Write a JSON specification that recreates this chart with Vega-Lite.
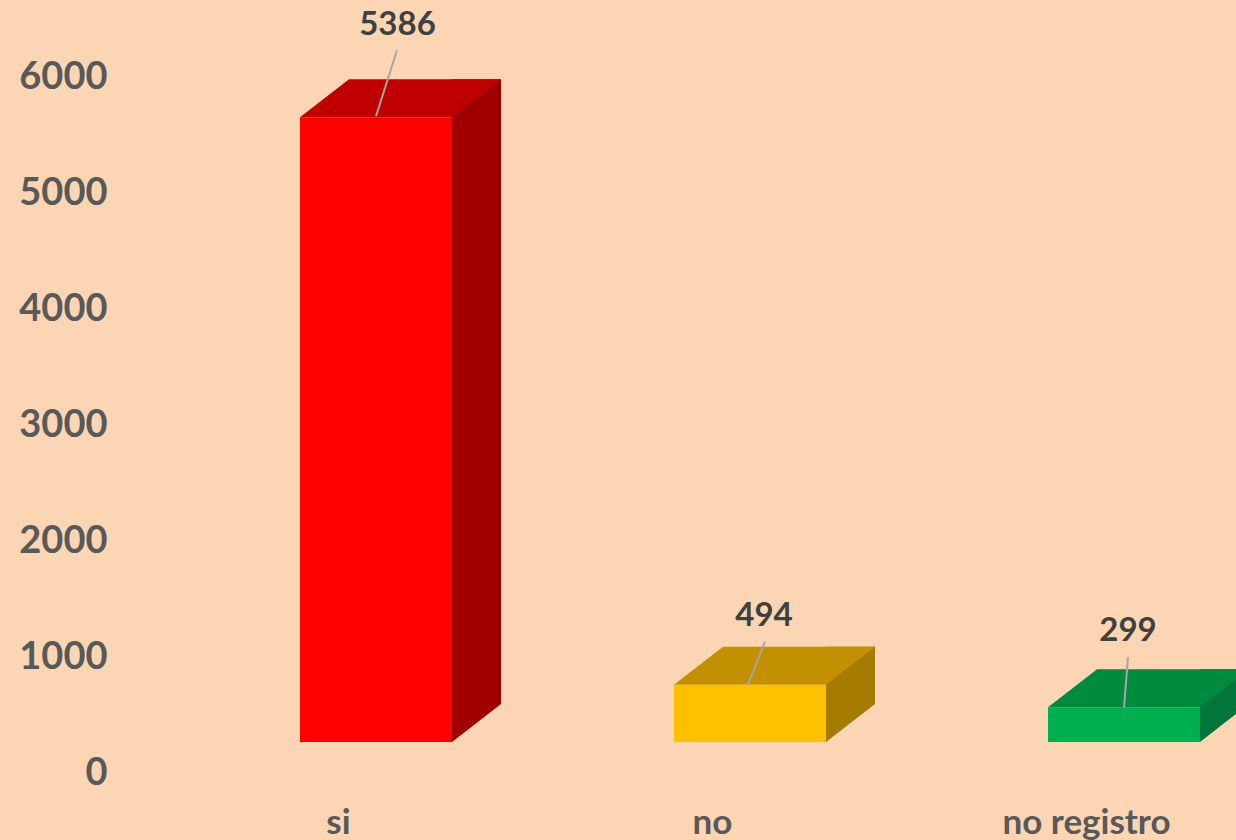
{
  "$schema": "https://vega.github.io/schema/vega-lite/v6.json",
  "width": 1116,
  "height": 696,
  "autosize": {"type": "none"},
  "padding": {"left": 120, "top": 77, "right": 0, "bottom": 67},
  "background": "#FCD5B5",
  "config": {"view": {"stroke": null}, "font": "Lato"},
  "data": {"values": [
    {"cat": "si", "value": 5386},
    {"cat": "no", "value": 494},
    {"cat": "no registro", "value": 299}
  ]},
  "encoding": {
    "x": {"field": "cat", "type": "nominal",
      "scale": {"type": "point", "domain": ["si", "no", "no registro"], "padding": 0.492, "align": 0.5924},
      "axis": {"title": null, "domain": false, "ticks": false, "tickSize": 0, "labelAngle": 0, "labelFont": "Lato", "labelFontSize": 35, "labelFontWeight": "bold", "labelColor": "#595959", "labelBaseline": "alphabetic", "labelPadding": 60, "grid": false}},
    "y": {"field": "value", "type": "quantitative",
      "scale": {"domain": [0, 6000], "nice": false},
      "axis": {"title": null, "format": "d", "domain": false, "ticks": false, "tickSize": 0, "grid": false, "values": [0, 1000, 2000, 3000, 4000, 5000, 6000], "labelFont": "Lato", "labelFontSize": 38, "labelFontWeight": "bold", "labelColor": "#595959", "labelPadding": 13, "labelBaseline": "middle"}}
  },
  "layer": [
    {
      "mark": {"type": "rect", "xOffset": 114, "x2Offset": 163, "yOffset": -69, "y2Offset": -31},
      "encoding": {
        "x2": {"field": "cat"},
        "y2": {"datum": 0},
        "color": {"field": "cat", "type": "nominal", "legend": null, "scale": {"domain": ["si", "no", "no registro"], "range": ["#A00000", "#A67C00", "#00763A"]}}
      }
    },
    {
      "mark": {"type": "point", "shape": "M -1 0.189 L 0.512 0.189 L 1 -0.189 L -0.512 -0.189 Z", "size": 40401, "filled": true, "opacity": 1, "strokeWidth": 0, "xOffset": 62.5, "yOffset": -50},
      "encoding": {
        "color": {"field": "cat", "type": "nominal", "legend": null, "scale": {"domain": ["si", "no", "no registro"], "range": ["#C00000", "#C29000", "#008A3E"]}}
      }
    },
    {
      "mark": {"type": "point", "shape": "M -1 0.7755 L 1 0.7755 L 1 -0.7755 Z", "size": 2401, "filled": true, "opacity": 1, "strokeWidth": 0, "color": "#FCD5B5", "xOffset": 138.5, "yOffset": -50},
      "encoding": {
        "y": {"datum": 0, "type": "quantitative"}
      }
    },
    {
      "mark": {"type": "rect", "xOffset": -38, "x2Offset": 114, "yOffset": -31, "y2Offset": -31},
      "encoding": {
        "x2": {"field": "cat"},
        "y2": {"datum": 0},
        "color": {"field": "cat", "type": "nominal", "legend": null, "scale": {"domain": ["si", "no", "no registro"], "range": ["#FF0000", "#FFC000", "#00B050"]}}
      }
    },
    {
      "transform": [{"filter": "datum.cat === 'si'"}],
      "mark": {"type": "rule", "color": "#A6A6A6", "strokeWidth": 2, "xOffset": 38, "x2Offset": 59, "yOffset": -32, "y2Offset": -98},
      "encoding": {"x2": {"field": "cat"}, "y2": {"field": "value"}}
    },
    {
      "transform": [{"filter": "datum.cat === 'no'"}],
      "mark": {"type": "rule", "color": "#A6A6A6", "strokeWidth": 2, "xOffset": 36, "x2Offset": 53, "yOffset": -31, "y2Offset": -74},
      "encoding": {"x2": {"field": "cat"}, "y2": {"field": "value"}}
    },
    {
      "transform": [{"filter": "datum.cat === 'no registro'"}],
      "mark": {"type": "rule", "color": "#A6A6A6", "strokeWidth": 2, "xOffset": 38, "x2Offset": 42, "yOffset": -31, "y2Offset": -81},
      "encoding": {"x2": {"field": "cat"}, "y2": {"field": "value"}}
    },
    {
      "transform": [{"filter": "datum.cat === 'si'"}],
      "mark": {"type": "text", "font": "Lato", "fontSize": 33, "fontWeight": "bold", "color": "#404040", "align": "center", "baseline": "middle", "dx": 59.5, "dy": -123},
      "encoding": {"text": {"field": "value", "format": "d"}}
    },
    {
      "transform": [{"filter": "datum.cat === 'no'"}],
      "mark": {"type": "text", "font": "Lato", "fontSize": 33, "fontWeight": "bold", "color": "#404040", "align": "center", "baseline": "middle", "dx": 52, "dy": -100},
      "encoding": {"text": {"field": "value", "format": "d"}}
    },
    {
      "transform": [{"filter": "datum.cat === 'no registro'"}],
      "mark": {"type": "text", "font": "Lato", "fontSize": 33, "fontWeight": "bold", "color": "#404040", "align": "center", "baseline": "middle", "dx": 42, "dy": -107},
      "encoding": {"text": {"field": "value", "format": "d"}}
    }
  ],
  "resolve": {"scale": {"color": "independent"}}
}
